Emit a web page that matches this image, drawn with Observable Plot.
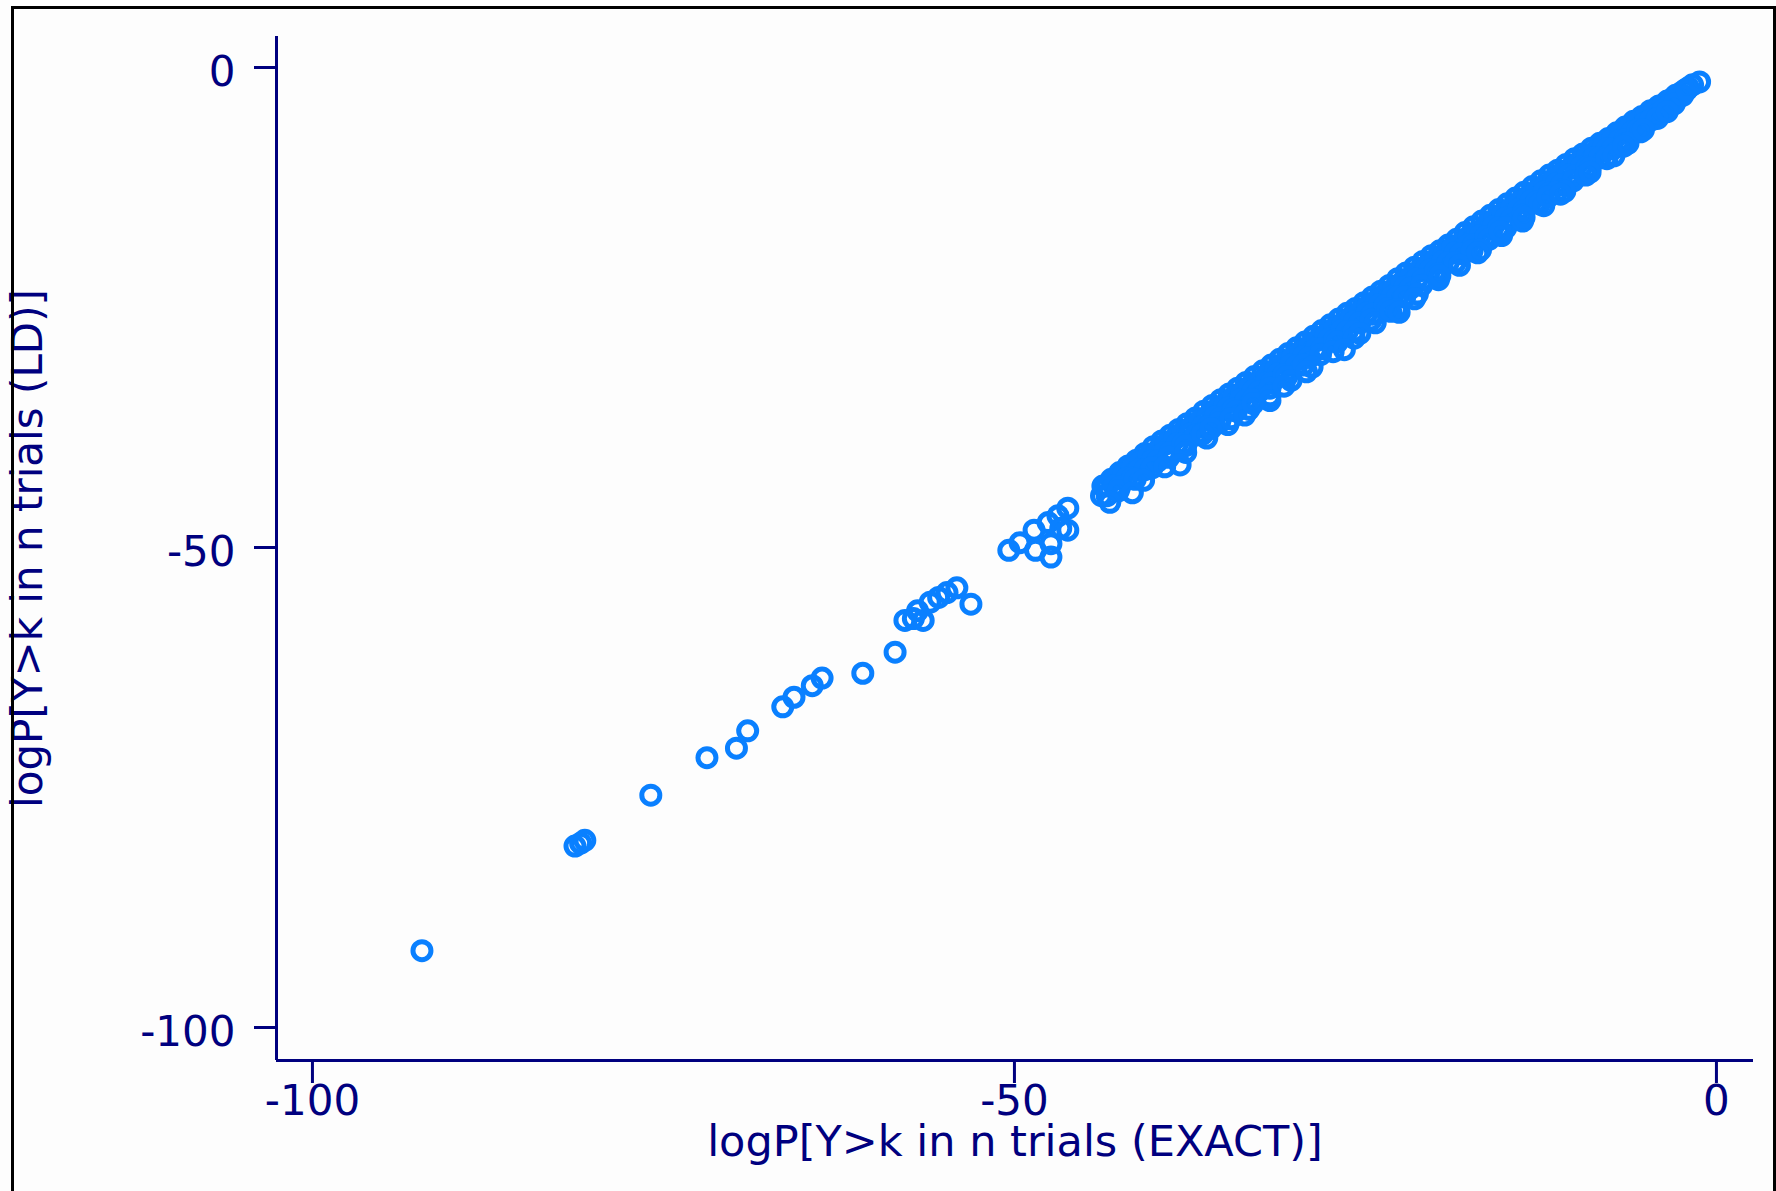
<!DOCTYPE html>
<html>
<head>
<meta charset="utf-8">
<script src="https://cdn.jsdelivr.net/npm/d3@7"></script>
<script src="https://cdn.jsdelivr.net/npm/@observablehq/plot@0.6"></script>
<style>
  html, body { margin: 0; padding: 0; background: #fdfdfd; }
  body { width: 1776px; height: 1191px; position: relative; overflow: hidden; }
  #chart { position: absolute; left: 0; top: 0; }
  #frame {
    position: absolute; left: 11px; top: 6px; right: 0; bottom: -10px;
    border: 3px solid #000; border-bottom: none; pointer-events: none;
  }
</style>
</head>
<body>
<div id="chart"></div>
<div id="frame"></div>
<script>
// log tail probabilities: exact binomial vs. large-deviation approximation
const xTitle = "logP[Y>k in n trials (EXACT)]";
const yTitle = "logP[Y>k in n trials (LD)]";
const xTicks = [-100, -50, 0];
const yTicks = [-100, -50, 0];
const xDomain = [-102.56, 2.64];
const yDomain = [-103.44, 3.23];

// sparse lower tail, [exact, LD]
const tailPoints = [
  [-92.2, -92.0],
  [-81.3, -81.1], [-80.9, -80.8], [-80.6, -80.5],
  [-75.9, -75.8],
  [-71.9, -71.9], [-69.8, -70.9], [-69.0, -69.1],
  [-66.5, -66.6], [-65.7, -65.6], [-64.4, -64.4], [-63.7, -63.6],
  [-60.8, -63.1], [-58.5, -60.9],
  [-57.8, -57.6], [-57.2, -57.4], [-56.5, -57.6], [-56.9, -56.6], [-56.0, -55.7],
  [-55.4, -55.2], [-54.8, -54.7], [-54.1, -54.2], [-53.1, -55.9],
  [-50.4, -50.3], [-49.6, -49.5], [-48.5, -50.3], [-47.4, -51.0], [-47.4, -49.6],
  [-48.6, -48.2], [-47.6, -47.4], [-46.9, -46.7], [-46.2, -45.9], [-46.2, -48.2],
  [-46.7, -48.0]
];

// dense band near the diagonal, [exact, LD]
const bandRowA = [
  [-43.7, -43.6], [-43.1, -42.9], [-42.5, -42.2], [-41.9, -41.5], [-41.3, -40.9],
  [-40.7, -40.2], [-40.1, -39.5], [-39.5, -38.9], [-38.9, -38.3], [-38.3, -37.7],
  [-37.7, -37.1], [-37.1, -36.5], [-36.5, -35.8], [-35.9, -35.2], [-35.3, -34.6],
  [-34.7, -34.0], [-34.1, -33.4], [-33.5, -32.8], [-32.9, -32.2], [-32.3, -31.6],
  [-31.7, -31.0], [-31.1, -30.4], [-30.5, -29.8], [-29.9, -29.2], [-29.3, -28.6],
  [-28.7, -28.0], [-28.1, -27.4], [-27.5, -26.8], [-26.9, -26.2], [-26.3, -25.6],
  [-25.7, -25.1], [-25.1, -24.5], [-24.5, -23.9], [-23.9, -23.3], [-23.3, -22.7],
  [-22.7, -22.0], [-22.1, -21.4], [-21.5, -20.8], [-20.9, -20.2], [-20.3, -19.6],
  [-19.7, -19.1], [-19.1, -18.5], [-18.5, -17.9], [-17.9, -17.2], [-17.3, -16.6],
  [-16.7, -16.0], [-16.1, -15.4], [-15.5, -14.8], [-14.9, -14.2], [-14.3, -13.6],
  [-13.7, -13.0], [-13.1, -12.4], [-12.5, -11.8], [-11.9, -11.2], [-11.3, -10.7],
  [-10.7, -10.1], [-10.1, -9.5], [-9.5, -9.0], [-8.9, -8.4], [-8.3, -7.9],
  [-7.7, -7.4], [-7.1, -6.8], [-6.5, -6.2], [-5.9, -5.6], [-5.3, -5.1],
  [-4.7, -4.5], [-4.1, -4.0], [-3.5, -3.5], [-2.9, -2.9], [-2.3, -2.4],
  [-1.7, -1.8]
];
const bandRowB = [
  [-43.4, -43.6], [-42.8, -42.9], [-42.2, -42.3], [-41.6, -41.7], [-41.0, -41.1],
  [-40.4, -40.4], [-39.8, -39.9], [-39.2, -39.2], [-38.6, -38.7], [-38.0, -38.0],
  [-37.4, -37.5], [-36.8, -36.8], [-36.2, -36.3], [-35.6, -35.6], [-35.0, -35.1],
  [-34.4, -34.4], [-33.8, -33.9], [-33.2, -33.2], [-32.6, -32.7], [-32.0, -32.0],
  [-31.4, -31.5], [-30.8, -30.8], [-30.2, -30.3], [-29.6, -29.6], [-29.0, -29.1],
  [-28.4, -28.4], [-27.8, -27.9], [-27.2, -27.2], [-26.6, -26.7], [-26.0, -26.0],
  [-25.4, -25.5], [-24.8, -24.8], [-24.2, -24.3], [-23.6, -23.6], [-23.0, -23.1],
  [-22.4, -22.4], [-21.8, -21.9], [-21.2, -21.2], [-20.6, -20.7], [-20.0, -20.0],
  [-19.4, -19.5], [-18.8, -18.8], [-18.2, -18.3], [-17.6, -17.6], [-17.0, -17.1],
  [-16.4, -16.4], [-15.8, -15.9], [-15.2, -15.2], [-14.6, -14.7], [-14.0, -14.0],
  [-13.4, -13.5], [-12.8, -12.9], [-12.2, -12.3], [-11.6, -11.7], [-11.0, -11.1],
  [-10.4, -10.5], [-9.8, -9.9], [-9.2, -9.3], [-8.6, -8.7], [-8.0, -8.1],
  [-7.4, -7.5], [-6.8, -6.9], [-6.2, -6.3], [-5.6, -5.7], [-5.0, -5.1],
  [-4.4, -4.5], [-3.8, -3.9], [-3.2, -3.3], [-2.6, -2.7], [-2.0, -2.1]
];
const bandRowC = [
  [-43.8, -44.6], [-42.9, -43.6], [-42.0, -42.8], [-41.1, -41.9], [-40.2, -41.0],
  [-39.3, -40.1], [-38.4, -39.2], [-37.5, -38.2], [-36.6, -37.4], [-35.7, -36.4],
  [-34.8, -35.5], [-33.9, -34.6], [-33.0, -33.7], [-32.1, -32.9], [-31.2, -31.9],
  [-30.3, -31.0], [-29.4, -30.1], [-28.5, -29.3], [-27.6, -28.3], [-26.7, -27.4],
  [-25.8, -26.5], [-24.9, -25.6], [-24.0, -24.7], [-23.1, -23.9], [-22.2, -22.9],
  [-21.3, -22.0], [-20.4, -21.1], [-19.5, -20.2], [-18.6, -19.3], [-17.7, -18.5],
  [-16.8, -17.5], [-15.9, -16.6], [-15.0, -15.7], [-14.1, -14.8], [-13.2, -13.9],
  [-12.3, -13.0], [-11.4, -12.1], [-10.5, -11.2], [-9.6, -10.3], [-8.7, -9.4],
  [-7.8, -8.5], [-6.9, -7.6], [-6.0, -6.7], [-5.1, -5.8], [-4.2, -4.9],
  [-3.3, -3.9], [-2.4, -2.9]
];
const bandRowD = [
  [-43.4, -44.6], [-42.5, -43.7], [-41.6, -42.8], [-40.7, -41.9], [-39.8, -41.0],
  [-38.9, -40.1], [-38.0, -39.2], [-37.1, -38.3], [-36.2, -37.4], [-35.3, -36.5],
  [-34.4, -35.6], [-33.5, -34.7], [-32.6, -33.8], [-31.7, -32.9], [-30.8, -32.0],
  [-29.9, -31.1], [-29.0, -30.2], [-28.1, -29.3], [-27.2, -28.4], [-26.3, -27.5],
  [-25.4, -26.6], [-24.5, -25.7], [-23.6, -24.8], [-22.7, -23.9], [-21.8, -23.0],
  [-20.9, -22.1], [-20.0, -21.2], [-19.1, -20.3], [-18.2, -19.4], [-17.3, -18.5],
  [-16.4, -17.6], [-15.5, -16.7], [-14.6, -15.8], [-13.7, -14.9], [-12.8, -14.0],
  [-11.9, -13.1], [-11.0, -12.2], [-10.1, -11.3], [-9.2, -10.4], [-8.3, -9.4],
  [-7.4, -8.5], [-6.5, -7.5], [-5.6, -6.5], [-4.7, -5.5], [-3.8, -4.5],
  [-2.9, -3.4]
];
const bandRowE = [
  [-42.6, -44.1], [-41.4, -42.9], [-40.2, -41.7], [-39.0, -40.6], [-37.8, -39.4],
  [-36.6, -38.1], [-35.4, -37.0], [-34.2, -35.8], [-33.0, -34.6], [-31.8, -33.4],
  [-30.6, -32.2], [-29.4, -31.0], [-28.2, -29.9], [-27.0, -28.6], [-25.8, -27.5],
  [-24.6, -26.3], [-23.4, -25.1], [-22.2, -23.9], [-21.0, -22.7], [-19.8, -21.5],
  [-18.6, -20.3], [-17.4, -19.1], [-16.2, -17.9], [-15.0, -16.7], [-13.8, -15.4],
  [-12.6, -14.2], [-11.4, -13.0], [-10.2, -11.8], [-9.0, -10.5], [-7.8, -9.3],
  [-6.6, -8.0], [-5.4, -6.7], [-4.2, -5.3], [-3.0, -3.8]
];
const bandRowF = [
  [-40.8, -43.0], [-39.3, -41.6], [-37.8, -40.1], [-36.3, -38.6], [-34.8, -37.2],
  [-33.3, -35.6], [-31.8, -34.2], [-30.3, -32.6], [-28.8, -31.2], [-27.3, -29.6],
  [-25.8, -28.2], [-24.3, -26.6], [-22.8, -25.2], [-21.3, -23.6], [-19.8, -22.1],
  [-18.3, -20.6], [-16.8, -19.0], [-15.3, -17.5], [-13.8, -16.0], [-12.3, -14.4],
  [-10.8, -12.9], [-9.3, -11.2], [-7.8, -9.5], [-6.3, -7.9]
];
const bandOutliers = [
  [-43.2, -45.3], [-41.6, -44.3], [-38.2, -41.4], [-36.6, -38.2], [-36.0, -37.6],
  [-34.6, -36.6], [-33.6, -36.2], [-33.0, -35.0], [-31.8, -34.7], [-30.8, -33.2],
  [-29.2, -31.7], [-26.5, -29.4], [-25.4, -27.7], [-23.2, -25.4], [-22.6, -25.5],
  [-21.5, -24.1], [-19.7, -21.7], [-17.0, -19.3], [-15.4, -17.1], [-13.7, -15.6],
  [-12.0, -13.5], [-11.1, -13.2], [-9.0, -10.9], [-7.3, -9.2], [-6.6, -8.2],
  [-5.2, -6.5], [-3.5, -4.6], [-2.1, -2.3], [-1.2, -1.5]
];

const points = [
  ...tailPoints, ...bandRowA, ...bandRowB, ...bandRowC,
  ...bandRowD, ...bandRowE, ...bandRowF, ...bandOutliers
].map(([exact, ld]) => ({exact, ld}));

const navy = "#00007f";
const markerBlue = "#0a80ff";

const chart = Plot.plot({
  width: 1776,
  height: 1191,
  marginLeft: 276,
  marginRight: 23,
  marginTop: 36,
  marginBottom: 131,
  style: {background: "transparent", fontFamily: "'DejaVu Sans', sans-serif", fontSize: "42px", color: navy},
  x: {domain: xDomain},
  y: {domain: yDomain},
  marks: [
    Plot.dot(points, {x: "exact", y: "ld", r: 9, stroke: markerBlue, strokeWidth: 5, fill: "none"}),
    Plot.ruleX([xDomain[0]], {stroke: navy, strokeWidth: 3}),
    Plot.ruleY([yDomain[0]], {stroke: navy, strokeWidth: 3}),
    Plot.axisX(xTicks, {tickSize: 23, tickPadding: 2, strokeWidth: 3, color: navy, label: null, tickFormat: d => String(d)}),
    Plot.axisY(yTicks, {tickSize: 22, text: null, strokeWidth: 3, color: navy, label: null}),
    Plot.axisY(yTicks, {tickSize: 0, tickPadding: 41, dy: 5, color: navy, label: null, tickFormat: d => String(d)}),
    Plot.text([xTitle], {frameAnchor: "bottom", text: d => d, dy: 82, fontSize: 43, lineAnchor: "middle", fill: navy}),
    Plot.text([yTitle], {frameAnchor: "left", text: d => d, rotate: -90, dx: -248, fontSize: 42, textAnchor: "middle", lineAnchor: "middle", fill: navy})
  ]
});
document.getElementById("chart").appendChild(chart);
</script>
</body>
</html>
